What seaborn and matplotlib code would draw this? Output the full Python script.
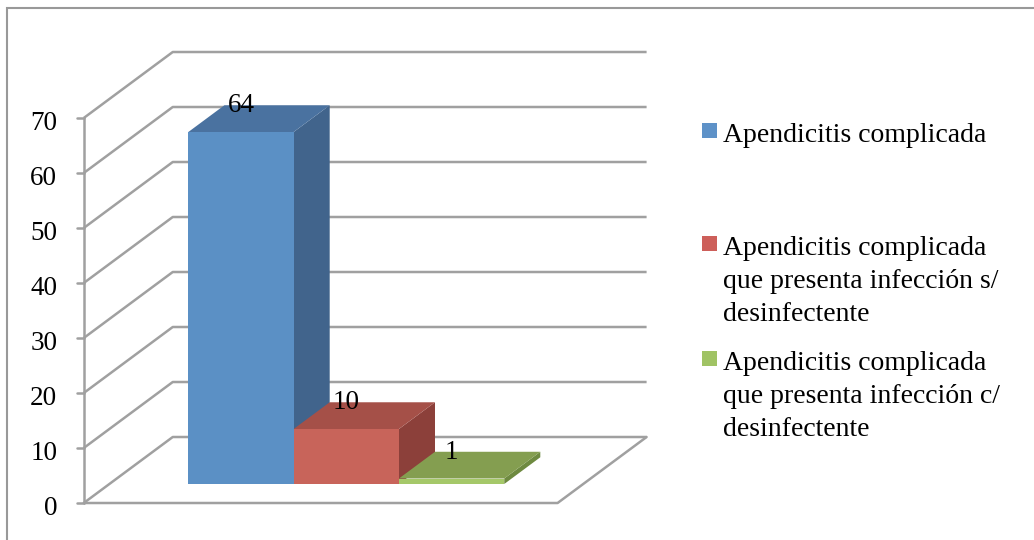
import matplotlib
matplotlib.use("Agg")
import matplotlib.pyplot as plt
import seaborn as sns
from matplotlib.patches import Polygon, Rectangle

# ---------------- data ----------------
series = [
    "Apendicitis complicada",
    "Apendicitis complicada\nque presenta infección s/\ndesinfectente",
    "Apendicitis complicada\nque presenta infección c/\ndesinfectente",
]
values = [64, 10, 1]
y_ticks = [0, 10, 20, 30, 40, 50, 60, 70]

# ---------------- style ----------------
front_colors = ["#5B90C5", "#C8645A", "#A5C869"]
top_colors = ["#4A72A0", "#A55048", "#849E50"]
side_colors = ["#41648C", "#8C403A", "#6E8A40"]
legend_colors = ["#5E92C8", "#CD5F5A", "#A0C364"]
grid_color = "#A0A0A0"

sns.set_theme(style="white")
plt.rcParams["font.family"] = ["Liberation Serif", "DejaVu Serif"]
plt.rcParams["text.color"] = "black"

W, H = 1034, 540
fig = plt.figure(figsize=(W / 100, H / 100), dpi=100)
ax = fig.add_axes([0, 0, 1, 1])

# pixel geometry of the oblique projection
PX_X = 105.3      # pixels per category unit
PX_Y = 5.5        # pixels per value unit
X0_PX, Y0_PX = 241, 484   # pixel of (first bar centre, value 0) on bar front plane
DX = 89 / PX_X    # depth vector (data units) for full floor depth
DY = 66 / PX_Y
Z_FRONT, Z_BACK, Z_BAR = -0.288, 0.712, 0.405
GAP = 0.75

def proj(x, y, z):
    return x + z * DX, y + z * DY

sns.barplot(x=series, y=values, hue=series, palette=front_colors, width=1.0,
            saturation=1, legend=False, linewidth=0, ax=ax)

n = len(values)
xl, xr = -0.5 - GAP, n - 0.5 + GAP

# walls & floor
for v in y_ticks:
    p0 = proj(xl, v, Z_FRONT)
    p1 = proj(xl, v, Z_BACK)
    p2 = proj(xr, v, Z_BACK)
    ax.plot([p0[0], p1[0], p2[0]], [p0[1], p1[1], p2[1]], color=grid_color,
            lw=1.8, zorder=1, solid_capstyle="butt")
    tx = p0[0] - 7 / PX_X
    ax.plot([tx, p0[0]], [p0[1], p0[1]], color=grid_color, lw=1.8, zorder=1)
    ax.text(p0[0] - 26.5 / PX_X, p0[1] - 12 / PX_Y, str(v), ha="right",
            va="baseline", fontsize=19.5, color="black")
a0 = proj(xl, 0, Z_FRONT)
a1 = proj(xl, max(y_ticks), Z_FRONT)
ax.plot([a0[0], a1[0]], [a0[1], a1[1]], color=grid_color, lw=1.8, zorder=1)
f1 = proj(xr, 0, Z_FRONT)
f2 = proj(xr, 0, Z_BACK)
ax.plot([a0[0], f1[0], f2[0]], [a0[1], f1[1], f2[1]], color=grid_color, lw=1.8, zorder=1)

# 3D faces for bars
for i, patch in enumerate(ax.patches):
    x0 = patch.get_x()
    w = patch.get_width()
    h = patch.get_height()
    patch.set_zorder(3 + 2 * i + 1)
    top = [proj(x0, h, 0), proj(x0 + w, h, 0), proj(x0 + w, h, Z_BAR), proj(x0, h, Z_BAR)]
    side = [proj(x0 + w, 0, 0), proj(x0 + w, h, 0), proj(x0 + w, h, Z_BAR), proj(x0 + w, 0, Z_BAR)]
    ax.add_patch(Polygon(side, closed=True, facecolor=side_colors[i], edgecolor="none", zorder=3 + 2 * i))
    ax.add_patch(Polygon(top, closed=True, facecolor=top_colors[i], edgecolor="none", zorder=3 + 2 * i))
    lx, ly = proj(x0 + w / 2, h, Z_BAR)
    ax.text(x0 + w / 2, ly - 7 / PX_Y, str(values[i]), ha="center", va="baseline",
            fontsize=19.5, color="black", zorder=20)

ax.set_xlim(-X0_PX / PX_X, (W - X0_PX) / PX_X)
ax.set_ylim((Y0_PX - H) / PX_Y, Y0_PX / PX_Y)
ax.axis("off")

# legend (manual, Excel-like top-aligned entries)
baselines = [142, 255, 370]
for i, lab in enumerate(series):
    b = baselines[i]
    fig.add_artist(Rectangle((702 / W, 1 - (b - 4) / H), 15 / W, 15 / H,
                             transform=fig.transFigure, facecolor=legend_colors[i],
                             edgecolor="none"))
    for k, line in enumerate(lab.split("\n")):
        fig.text(723 / W, 1 - (b + 33 * k) / H, line, ha="left", va="baseline",
                 fontsize=20, color="black")

# outer frame (only left and top edges visible)
fig.add_artist(Rectangle((7 / W, -0.1), 1.2, 1 - 7.7 / H + 0.1, transform=fig.transFigure,
                         facecolor="none", edgecolor="#999999", lw=1.5))

fig.savefig("out.png", dpi=100)
